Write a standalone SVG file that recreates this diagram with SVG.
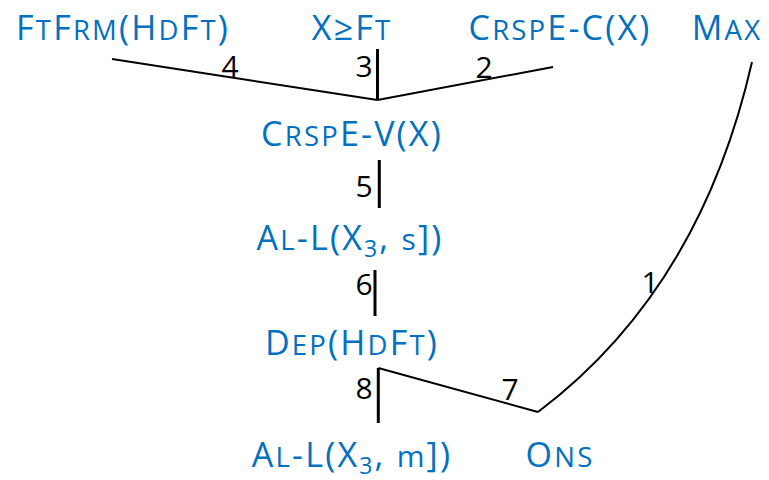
<svg xmlns="http://www.w3.org/2000/svg" width="769" height="480" viewBox="0 0 769 480">
<style>
.n{font-family:"Open Sans","Noto Sans",sans-serif;font-size:34px;fill:#0070C0;text-anchor:middle;letter-spacing:2.2px}
.sc{font-size:27.5px}
.lc{font-size:30px}
.sub{font-size:23px}
.e{stroke:#000;stroke-width:2;fill:none}
.v{stroke:#000;stroke-width:3;fill:none}
.l{font-family:"Open Sans","Noto Sans",sans-serif;font-size:30px;fill:#000;text-anchor:middle}
</style>
<rect width="769" height="480" fill="#fff"/>
<g id="connectors">
<line class="e" x1="112" y1="59" x2="377.5" y2="100"/>
<line class="v" x1="377.5" y1="49" x2="377.5" y2="100"/>
<line class="e" x1="377.5" y1="100" x2="553" y2="67"/>
<line class="v" x1="379.3" y1="160" x2="379.3" y2="208"/>
<line class="v" x1="375" y1="270" x2="375" y2="316"/>
<line class="v" x1="378.3" y1="368" x2="378.3" y2="423"/>
<line class="e" x1="378.3" y1="368" x2="538" y2="412"/>
<path class="e" d="M538,412 Q700,290 752,62"/>
<text class="l" x="230" y="77">4</text>
<text class="l" x="364" y="77">3</text>
<text class="l" x="484" y="78">2</text>
<text class="l" x="364" y="197">5</text>
<text class="l" x="364" y="295">6</text>
<text class="l" x="364" y="399">8</text>
<text class="l" x="510" y="400">7</text>
<text class="l" x="650" y="293">1</text>
</g>
<g id="n-ftfrm"><text class="n" x="123" y="40">F<tspan class="sc">T</tspan>F<tspan class="sc">RM</tspan>(H<tspan class="sc">D</tspan>F<tspan class="sc">T</tspan>)</text></g>
<g id="n-xgeft"><text class="n" x="352" y="40">X≥F<tspan class="sc">T</tspan></text></g>
<g id="n-crspec"><text class="n" x="560" y="40">C<tspan class="sc">RSP</tspan>E-C(X)</text></g>
<g id="n-max"><text class="n" x="727" y="40">M<tspan class="sc">AX</tspan></text></g>
<g id="n-crspev"><text class="n" x="352" y="146">C<tspan class="sc">RSP</tspan>E-V(X)</text></g>
<g id="n-als"><text class="n" x="350" y="250">A<tspan class="sc">L</tspan>-L(X<tspan class="sub" dy="7">3</tspan><tspan dy="-7">, </tspan><tspan class="lc">s</tspan>])</text></g>
<g id="n-dep"><text class="n" x="352" y="355">D<tspan class="sc">EP</tspan>(H<tspan class="sc">D</tspan>F<tspan class="sc">T</tspan>)</text></g>
<g id="n-alm"><text class="n" x="352" y="467">A<tspan class="sc">L</tspan>-L(X<tspan class="sub" dy="7">3</tspan><tspan dy="-7">, </tspan><tspan class="lc">m</tspan>])</text></g>
<g id="n-ons"><text class="n" x="560" y="467">O<tspan class="sc">NS</tspan></text></g>
</svg>
